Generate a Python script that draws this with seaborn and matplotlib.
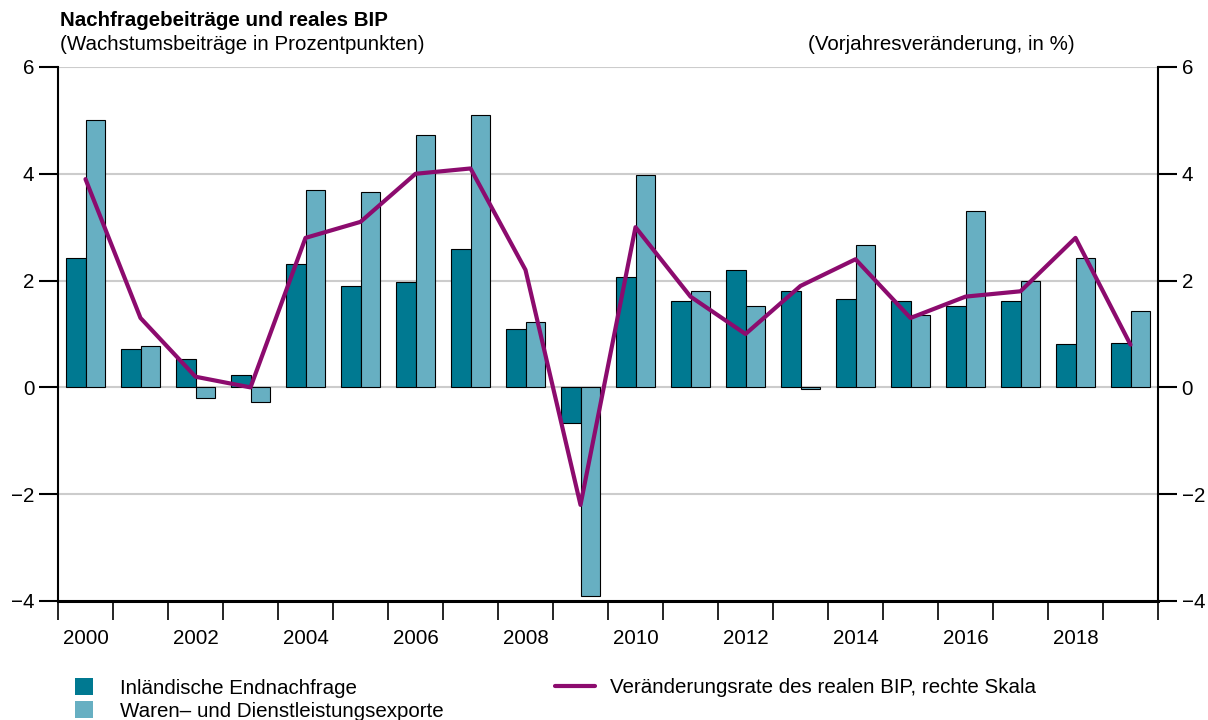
import numpy as np
import pandas as pd
import matplotlib
matplotlib.use("Agg")
import matplotlib.pyplot as plt
import seaborn as sns
from matplotlib.patches import Patch
from matplotlib.lines import Line2D

years = [str(y) for y in range(2000, 2020)]
domestic = [2.42, 0.71, 0.53, 0.23, 2.32, 1.90, 1.97, 2.60, 1.09, -0.67,
            2.06, 1.61, 2.19, 1.80, 1.65, 1.61, 1.52, 1.61, 0.82, 0.84]
exports = [5.00, 0.77, -0.20, -0.27, 3.70, 3.65, 4.72, 5.11, 1.23, -3.90,
           3.97, 1.80, 1.52, -0.03, 2.66, 1.35, 3.30, 1.99, 2.42, 1.43]
gdp = [3.9, 1.3, 0.2, 0.0, 2.8, 3.1, 4.0, 4.1, 2.2, -2.2,
       3.0, 1.7, 1.0, 1.9, 2.4, 1.3, 1.7, 1.8, 2.8, 0.8]

s_dom = "Inländische Endnachfrage"
s_exp = "Waren\u2013 und Dienstleistungsexporte"
s_gdp = "Veränderungsrate des realen BIP, rechte Skala"
label_years = [str(y) for y in range(2000, 2020, 2)]

c_dom = "#007991"
c_exp = "#67AFC2"
c_gdp = "#8C0B6E"

FS = 14.8

sns.set_style("white")
plt.rcParams["font.family"] = ["Liberation Sans", "DejaVu Sans"]
plt.rcParams["font.size"] = FS
plt.rcParams["text.color"] = "black"
plt.rcParams["xtick.color"] = "black"
plt.rcParams["ytick.color"] = "black"
plt.rcParams["axes.labelcolor"] = "black"

df = pd.DataFrame({
    "Jahr": years * 2,
    "Wert": domestic + exports,
    "Serie": [s_dom] * len(years) + [s_exp] * len(years),
})

fig = plt.figure(figsize=(12.08, 7.2), dpi=100)
ax = fig.add_axes([58 / 1208, 1 - 601 / 720, 1100 / 1208, (601 - 67) / 720])

sns.barplot(data=df, x="Jahr", y="Wert", hue="Serie", order=years,
            hue_order=[s_dom, s_exp], palette={s_dom: c_dom, s_exp: c_exp},
            width=0.7, edgecolor="black", linewidth=0.8, legend=False,
            saturation=1, ax=ax)

ax.set_ylim(-4, 6)
ax.set_xlim(-0.5, len(years) - 0.5)
ax.set_yticks([-4, -2, 0, 2, 4, 6])
ax.set_axisbelow(True)
ax.yaxis.grid(True, color="#cccccc", linewidth=1.5)
ax.xaxis.grid(False)
ax.set_xlabel("")
ax.set_ylabel("")

ax.set_xticks(np.arange(-0.5, len(years), 1.0))
ax.set_xticklabels([])
ax.set_xticks([years.index(y) for y in label_years], minor=True)
ax.set_xticklabels(label_years, minor=True)
ax.tick_params(axis="x", which="major", length=14, width=1.2, color="black", direction="out", bottom=True)
ax.tick_params(axis="x", which="minor", length=0, pad=20, labelsize=FS, labelcolor="black")
ax.tick_params(axis="y", which="major", length=14, width=1.5, color="black",
               direction="out", left=True, pad=3, labelsize=FS, labelcolor="black")

for side in ["top", "right"]:
    ax.spines[side].set_visible(False)
ax.spines["left"].set_linewidth(1.5)
ax.spines["bottom"].set_linewidth(2.2)
ax.spines["left"].set_color("black")
ax.spines["bottom"].set_color("black")

ax2 = ax.twinx()
sns.lineplot(x=np.arange(len(years)), y=gdp, ax=ax2, color=c_gdp, linewidth=3.0)
ax2.set_ylim(-4, 6)
ax2.set_yticks([-4, -2, 0, 2, 4, 6])
ax2.tick_params(axis="y", length=14, width=1.5, color="black", direction="out",
                right=True, pad=3, labelsize=FS, labelcolor="black")
for side in ["top", "bottom", "left"]:
    ax2.spines[side].set_visible(False)
ax2.spines["right"].set_linewidth(1.5)
ax2.spines["right"].set_color("black")
ax2.grid(False)

fig.text(60 / 1208, 1 - 20 / 720, "Nachfragebeiträge und reales BIP",
         fontsize=FS, fontweight="bold", va="center", ha="left", color="black")
fig.text(60 / 1208, 1 - 45 / 720, "(Wachstumsbeiträge in Prozentpunkten)",
         fontsize=FS, va="center", ha="left", color="black")
fig.text(1075 / 1208, 1 - 45 / 720, "(Vorjahresveränderung, in %)",
         fontsize=FS, va="center", ha="right", color="black")

h_bars = [Patch(facecolor=c_dom, edgecolor="none", label=s_dom),
          Patch(facecolor=c_exp, edgecolor="none", label=s_exp)]
leg1 = fig.legend(handles=h_bars, loc="upper left",
                  bbox_to_anchor=(67 / 1208, 1 - 670 / 720), frameon=False,
                  fontsize=FS, handlelength=0.88, handleheight=0.88,
                  handletextpad=1.3, labelspacing=0.17, borderaxespad=0, borderpad=0.4,
                  labelcolor="black")
h_line = [Line2D([0], [0], color=c_gdp, linewidth=3.0, label=s_gdp)]
leg2 = fig.legend(handles=h_line, loc="upper left",
                  bbox_to_anchor=(547 / 1208, 1 - 670 / 720), frameon=False,
                  fontsize=FS, handlelength=1.95, handletextpad=0.73,
                  borderaxespad=0, borderpad=0.4, labelcolor="black")

fig.savefig("out.png", dpi=100)
